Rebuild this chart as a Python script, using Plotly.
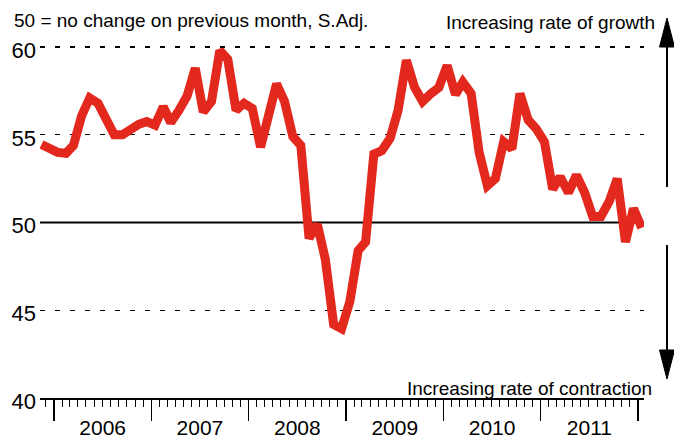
import pandas as pd
import plotly.graph_objects as go

# ---- data (monthly index, Nov 2005 - Jan 2012) ----
start_month = "2005-11-01"
n_months = 75
index_values = [
    54.45, 54.25, 54.0, 53.95, 54.4, 56.1, 57.1, 56.8, 56.0, 55.0,
    55.0, 55.3, 55.6, 55.75, 55.55, 56.6, 55.7, 56.4, 57.2, 58.8,
    56.3, 56.9, 59.8, 59.3, 56.4, 56.8, 56.5, 54.3, 56.1, 57.9,
    56.9, 54.9, 54.4, 49.1, 49.9, 47.9, 44.2, 43.95, 45.5, 48.4,
    48.9, 53.9, 54.1, 54.8, 56.4, 59.25, 57.7, 56.9, 57.35, 57.7,
    58.95, 57.3, 58.0, 57.35, 54.0, 52.1, 52.5, 54.6, 54.2, 57.35,
    55.85, 55.35, 54.6, 51.9, 52.6, 51.7, 52.7, 51.7, 50.35, 50.35,
    51.2, 52.5, 48.9, 50.8, 49.7,
]
y_ticks = [40, 45, 50, 55, 60]
no_change_level = 50

note_text = "50 = no change on previous month, S.Adj."
growth_text = "Increasing rate of growth"
contraction_text = "Increasing rate of contraction"

dates = pd.date_range(start_month, periods=n_months, freq="MS") + pd.Timedelta(days=14)

# ---- layout geometry (pixels) ----
W, H = 674, 441
ML, MR, MT, MB = 40, 30, 12, 43
PW, PH = W - ML - MR, H - MT - MB


def px_x(x):
    return (x - ML) / PW


def px_y(y):
    return (H - MB - y) / PH


RED = "#e3281e"

fig = go.Figure()
fig.add_trace(go.Scatter(
    x=dates, y=index_values, mode="lines",
    line=dict(color=RED, width=9),
    hoverinfo="skip", showlegend=False,
))

shapes = [
    dict(type="line", xref="paper", x0=0, x1=1, yref="y",
         y0=no_change_level, y1=no_change_level,
         line=dict(color="black", width=2), layer="below"),
]
# right-hand double arrow
ax_x = 667
arrow_style = dict(type="line", xref="paper", yref="paper",
                   line=dict(color="black", width=2))
shapes.append(dict(arrow_style, x0=px_x(ax_x), x1=px_x(ax_x), y0=px_y(47), y1=px_y(187)))
shapes.append(dict(arrow_style, x0=px_x(ax_x), x1=px_x(ax_x), y0=px_y(245), y1=px_y(350)))


def tri(tip_y, base_y):
    return (f"M {px_x(ax_x)} {px_y(tip_y)} L {px_x(ax_x - 7.5)} {px_y(base_y)} "
            f"L {px_x(ax_x + 7.5)} {px_y(base_y)} Z")


shapes.append(dict(type="path", xref="paper", yref="paper", path=tri(18, 47),
                   fillcolor="black", line=dict(color="black", width=1)))
shapes.append(dict(type="path", xref="paper", yref="paper", path=tri(379, 350),
                   fillcolor="black", line=dict(color="black", width=1)))

font_main = "Liberation Sans, Arial, Helvetica, sans-serif"
annotations = [
    dict(text=note_text, xref="paper", yref="paper", x=px_x(12), y=px_y(21),
         xanchor="left", yanchor="middle", showarrow=False,
         font=dict(size=19, color="black", family=font_main)),
    dict(text=growth_text, xref="paper", yref="paper", x=px_x(657), y=px_y(23),
         xanchor="right", yanchor="middle", showarrow=False,
         font=dict(size=19, color="black", family=font_main)),
    dict(text=contraction_text, xref="paper", yref="paper", x=px_x(654), y=px_y(388),
         xanchor="right", yanchor="middle", showarrow=False,
         font=dict(size=19, color="black", family=font_main)),
]

fig.update_layout(
    width=W, height=H,
    margin=dict(l=ML, r=MR, t=MT, b=MB, pad=0, autoexpand=False),
    paper_bgcolor="white", plot_bgcolor="white",
    font=dict(family=font_main, color="black"),
    shapes=shapes, annotations=annotations,
    showlegend=False,
)
fig.update_xaxes(
    type="date", automargin=False,
    range=["2005-11-09 12:00", "2012-01-23 12:00"],
    showgrid=False, zeroline=False,
    showline=True, linecolor="black", linewidth=1.5,
    ticks="outside", ticklen=21, tickwidth=1.5, tickcolor="black",
    dtick="M12", tick0="2006-01-01", tickformat="%Y",
    ticklabelmode="period", ticklabelstandoff=-11,
    tickfont=dict(size=21, color="black", family=font_main),
    minor=dict(ticks="outside", ticklen=7, tickwidth=1, tickcolor="black",
               dtick="M1", tick0="2006-01-01", showgrid=False),
)
fig.update_yaxes(
    automargin=False,
    range=[40, 62], tickvals=y_ticks,
    showgrid=True, gridcolor="black", gridwidth=1.2, griddash="5px,10px",
    zeroline=False, showline=False, ticks="",
    ticklabelstandoff=3, ticklabelshift=3,
    tickfont=dict(size=22, color="black", family=font_main),
)

fig.write_html(
    "out.html",
    config={"displayModeBar": False, "staticPlot": True},
    post_script="document.body.style.margin='0px';document.body.style.overflow='hidden';",
)
